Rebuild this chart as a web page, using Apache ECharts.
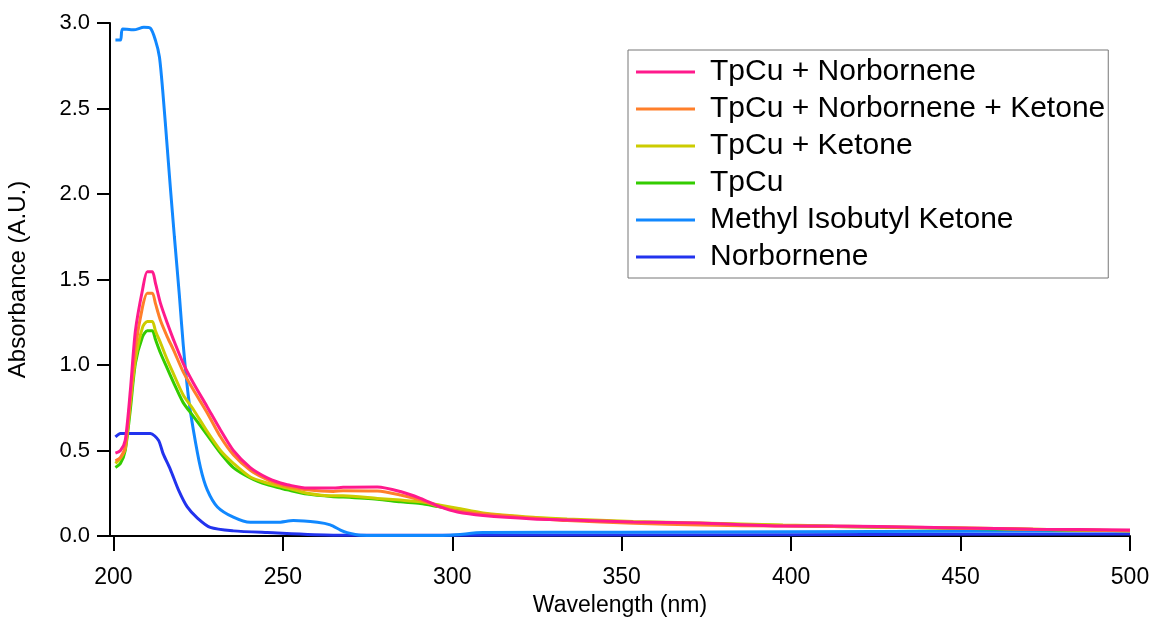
<!DOCTYPE html>
<html>
<head>
<meta charset="utf-8">
<script src="https://cdn.jsdelivr.net/npm/echarts@6/dist/echarts.min.js"></script>
<style>html,body{margin:0;padding:0;background:#fff}#c{width:1156px;height:618px}</style>
</head>
<body>
<div id="c"></div>
<script>
// Wavelength grid (nm) shared by the four TpCu spectra
const wavelength = [200.6, 202.1, 203.5, 205.0, 206.5, 208.6, 210.0, 211.5, 212.4, 213.9, 215.9, 217.7, 220.6, 223.6, 227.7, 231.6, 235.4, 240.4, 245.4, 249.3, 251.3, 257.2, 264.9, 267.8, 277.9, 284.7, 290.6, 296.5, 301.5, 309.1, 323.9, 333.9, 353.4, 373.2, 397.6, 412.4, 449.0, 471.4, 500.0];
const tpcuNorbornene       = [0.485, 0.50, 0.56, 0.85, 1.20, 1.44, 1.545, 1.545, 1.48, 1.36, 1.245, 1.15, 1.01, 0.895, 0.755, 0.62, 0.50, 0.40, 0.34, 0.31, 0.30, 0.28, 0.28, 0.285, 0.287, 0.26, 0.22, 0.17, 0.14, 0.12, 0.10, 0.094, 0.082, 0.076, 0.058, 0.058, 0.047, 0.040, 0.035];
const tpcuNorborneneKetone = [0.44, 0.46, 0.52, 0.80, 1.10, 1.34, 1.42, 1.42, 1.36, 1.26, 1.165, 1.09, 0.96, 0.855, 0.72, 0.58, 0.475, 0.385, 0.33, 0.30, 0.29, 0.27, 0.26, 0.265, 0.263, 0.24, 0.21, 0.17, 0.146, 0.128, 0.105, 0.09, 0.075, 0.064, 0.058, 0.055, 0.047, 0.040, 0.030];
const tpcuKetone           = [0.425, 0.455, 0.51, 0.78, 1.03, 1.22, 1.255, 1.255, 1.20, 1.13, 1.03, 0.95, 0.825, 0.74, 0.61, 0.50, 0.425, 0.345, 0.31, 0.29, 0.28, 0.25, 0.235, 0.235, 0.22, 0.21, 0.20, 0.18, 0.163, 0.135, 0.11, 0.10, 0.085, 0.076, 0.064, 0.058, 0.047, 0.040, 0.030];
const tpcu                 = [0.40, 0.425, 0.50, 0.74, 1.01, 1.165, 1.20, 1.20, 1.15, 1.07, 0.98, 0.90, 0.78, 0.70, 0.59, 0.485, 0.40, 0.34, 0.30, 0.28, 0.27, 0.245, 0.23, 0.228, 0.215, 0.20, 0.19, 0.17, 0.155, 0.13, 0.105, 0.095, 0.08, 0.072, 0.062, 0.056, 0.045, 0.038, 0.030];
// Methyl Isobutyl Ketone
const mibkWavelength = [200.6, 202.1, 202.7, 206.0, 209.0, 210.9, 212.4, 213.6, 214.7, 215.9, 216.8, 218.0, 219.5, 220.6, 222.1, 223.6, 225.7, 227.7, 230.7, 235.4, 240.4, 248.4, 253.1, 260.2, 264.0, 267.0, 269.0, 272.9, 285.0, 299.4, 309.0, 350.0, 400.0, 450.0, 500.0];
const mibk           = [2.90, 2.90, 2.965, 2.96, 2.975, 2.97, 2.90, 2.80, 2.57, 2.27, 2.04, 1.75, 1.40, 1.12, 0.82, 0.62, 0.40, 0.27, 0.17, 0.11, 0.08, 0.08, 0.09, 0.08, 0.065, 0.035, 0.02, 0.005, 0.003, 0.005, 0.02, 0.022, 0.025, 0.028, 0.03];
// Norbornene
const norbWavelength = [200.6, 202.1, 206.0, 210.9, 213.3, 214.7, 216.8, 219.2, 221.8, 224.8, 228.6, 235.4, 245.4, 264.9, 300.0, 400.0, 500.0];
const norbornene     = [0.58, 0.60, 0.60, 0.60, 0.56, 0.48, 0.39, 0.27, 0.17, 0.105, 0.05, 0.03, 0.02, 0.005, 0.005, 0.008, 0.012];

const xTicks = [200, 250, 300, 350, 400, 450, 500];

const names  = ['TpCu + Norbornene', 'TpCu + Norbornene + Ketone', 'TpCu + Ketone', 'TpCu', 'Methyl Isobutyl Ketone', 'Norbornene'];
const colors = ['#ff1a8c', '#ff7f2a', '#cccc00', '#33cc00', '#1188ff', '#2233ee'];

const zip = (xs, ys) => xs.map((x, i) => [x, ys[i]]);
const seriesData = [
  zip(wavelength, tpcuNorbornene),
  zip(wavelength, tpcuNorborneneKetone),
  zip(wavelength, tpcuKetone),
  zip(wavelength, tpcu),
  zip(mibkWavelength, mibk),
  zip(norbWavelength, norbornene)
];
// draw order: later on top
const drawOrder = [5, 4, 3, 2, 1, 0];

const chart = echarts.init(document.getElementById('c'), null, {renderer: 'canvas'});
const font = 'Liberation Sans, Arial, Helvetica, sans-serif';
chart.setOption({
  animation: false,
  backgroundColor: '#fff',
  grid: {left: 110, right: 26, top: 23, bottom: 82, containLabel: false, outerBoundsMode: 'none'},
  legend: {
    orient: 'vertical', left: 628, top: 50,
    padding: [7, 3, 6, 8],
    borderColor: '#777', borderWidth: 1, backgroundColor: '#fff',
    itemWidth: 59, itemHeight: 3, itemGap: 7, icon: 'rect',
    data: names,
    textStyle: {fontFamily: font, fontSize: 30, color: '#000', lineHeight: 30, padding: [0, 0, 0, 10]}
  },
  xAxis: {
    type: 'value', min: 199, max: 500,
    splitLine: {show: false},
    axisLine: {onZero: false, lineStyle: {color: '#000', width: 2}},
    axisTick: {customValues: xTicks, length: 15, inside: false, lineStyle: {color: '#000', width: 2}},
    axisLabel: {customValues: xTicks, fontFamily: font, fontSize: 23, color: '#000', margin: 30},
    name: 'Wavelength (nm)', nameLocation: 'middle', nameGap: 56,
    nameTextStyle: {fontFamily: font, fontSize: 23, color: '#000'}
  },
  yAxis: {
    type: 'value', min: 0, max: 3, interval: 0.5,
    splitLine: {show: false},
    axisLine: {show: true, lineStyle: {color: '#000', width: 2}},
    axisTick: {show: true, length: 13, lineStyle: {color: '#000', width: 2}},
    axisLabel: {fontFamily: font, fontSize: 22, color: '#000', margin: 20, formatter: v => v.toFixed(1)},
    name: 'Absorbance (A.U.)', nameLocation: 'middle', nameGap: 80, nameRotate: 90,
    nameTextStyle: {fontFamily: font, fontSize: 24, color: '#000'}
  },
  series: drawOrder.map(i => ({
    name: names[i], type: 'line', data: seriesData[i],
    showSymbol: false, symbol: 'none', smooth: 0.25,
    color: colors[i],
    lineStyle: {width: 3, color: colors[i]},
    z: 2
  }))
});
</script>
</body>
</html>
